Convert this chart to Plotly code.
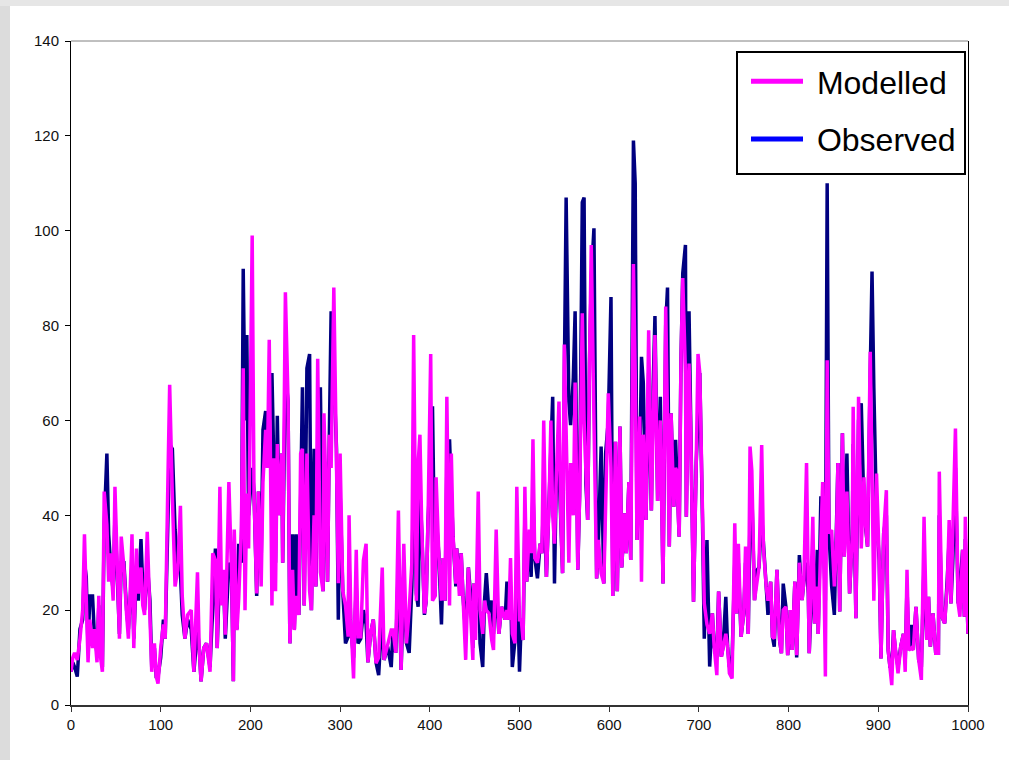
import plotly.graph_objects as go

# ---- data (day index, modelled, observed) ----
day = [0, 2, 4, 7, 10, 13, 15, 17, 19, 21, 24, 26, 29, 31, 33, 35, 37, 40, 42, 44,
       47, 49, 52, 54, 56, 59, 62, 64, 66, 68, 70, 73, 75, 78, 80, 82, 85, 88, 90, 93,
       95, 97, 100, 103, 105, 108, 110, 113, 116, 119, 122, 124, 127, 130, 134, 137, 141, 143, 145, 148,
       151, 155, 158, 161, 163, 166, 168, 170, 172, 176, 179, 181, 182, 185, 187, 190, 192, 194, 196, 198,
       202, 204, 207, 209, 212, 214, 217, 219, 221, 224, 226, 228, 230, 232, 235, 236, 239, 242, 244, 247,
       249, 251, 254, 256, 258, 260, 263, 266, 268, 271, 273, 275, 278, 281, 282, 284, 286, 288, 290, 293,
       296, 298, 300, 303, 306, 309, 310, 312, 315, 318, 320, 323, 326, 329, 331, 334, 337, 340, 343, 347,
       349, 353, 357, 359, 362, 365, 368, 371, 374, 377, 380, 382, 385, 387, 389, 391, 394, 396, 398, 401,
       403, 406, 407, 410, 413, 415, 417, 419, 422, 424, 426, 429, 430, 433, 435, 437, 440, 443, 446, 448,
       449, 451, 454, 456, 459, 461, 463, 466, 469, 471, 474, 477, 480, 484, 486, 488, 490, 492, 495, 497,
       500, 502, 504, 506, 508, 511, 513, 515, 517, 520, 523, 525, 527, 530, 533, 535, 537, 539, 541, 544,
       546, 548, 550, 552, 555, 557, 560, 562, 565, 567, 570, 572, 574, 576, 578, 580, 583, 586, 588, 591,
       594, 596, 599, 602, 604, 607, 609, 612, 614, 617, 619, 622, 624, 627, 629, 631, 634, 636, 638, 641,
       644, 647, 649, 651, 654, 657, 660, 663, 665, 667, 669, 672, 674, 675, 678, 680, 682, 685, 686, 689,
       691, 694, 697, 699, 701, 704, 706, 709, 712, 715, 717, 720, 722, 725, 727, 730, 732, 734, 737, 740,
       742, 744, 747, 750, 752, 755, 757, 759, 762, 765, 767, 770, 772, 775, 777, 780, 782, 784, 787, 790,
       792, 794, 797, 799, 802, 804, 807, 809, 812, 815, 817, 820, 822, 823, 827, 829, 832, 833, 836, 838,
       841, 843, 845, 848, 851, 853, 855, 857, 860, 862, 865, 868, 871, 872, 875, 878, 881, 884, 886, 888,
       891, 893, 895, 897, 898, 901, 903, 906, 909, 911, 913, 915, 917, 919, 922, 925, 928, 930, 932, 934,
       937, 939, 942, 945, 948, 951, 954, 956, 958, 961, 964, 967, 968, 971, 974, 977, 979, 981, 983, 986,
       989, 991, 994, 996, 997, 1000]

modelled = [7, 10, 11, 9.5, 14, 20, 36, 25, 9, 18, 12, 16, 9, 23, 10, 7, 45, 38, 26, 32,
            22, 46, 23.5, 14, 35.5, 29, 19, 14, 24, 36, 12, 33, 23.5, 29, 21, 19, 36.5, 21, 7, 13,
            6, 4.5, 12, 17, 14, 47, 67.5, 44, 25, 28.5, 42, 23, 14, 19, 20, 7, 28, 11.6, 5, 12,
            13, 7, 32, 30.5, 12, 46, 21, 28.5, 14.8, 47, 28, 5, 37, 15.8, 22.5, 37.6, 71, 20, 44.6, 33,
            99, 45, 23.5, 45, 25, 47, 58, 50, 77, 21, 52, 24, 55, 40, 53, 30, 87, 64, 13, 28.5,
            15.8, 23, 19, 53, 54, 21, 53, 24, 20, 40, 25, 73, 28, 24, 61.5, 47, 26, 57, 50, 88,
            54, 25.7, 53, 24, 21, 14.4, 40, 18, 5.6, 32.7, 14.4, 14.4, 30.5, 34, 9, 15, 18, 8.8, 10, 29,
            9.5, 12.3, 15.8, 15.8, 11, 41, 7.4, 34, 13, 20, 30, 78, 22, 51, 57, 37.6, 19.3, 22, 39, 74,
            22, 23, 48, 32, 22, 31, 22, 65, 21, 53, 35.5, 25.6, 33, 23, 32, 23, 9.5, 29, 19, 9.5,
            25.6, 13.7, 45, 20, 15, 22, 20, 19.3, 13.7, 11.6, 37, 15, 20.7, 18, 20, 18, 31, 15, 13, 46,
            18, 18, 13.7, 46, 26, 37, 32, 56, 31, 30, 34, 32, 60, 27, 43, 60, 40, 34, 47.8, 64,
            40, 27.8, 76, 60, 30, 51, 40, 68, 28.5, 44, 82.6, 60, 46.7, 39, 72, 97, 60, 26.7, 34.8, 27.8,
            25.6, 40, 65.7, 50, 23, 55.5, 24, 58.7, 29, 40.4, 32, 47, 30.6, 93, 70, 34.8, 60.8, 26, 57, 39,
            79, 41, 60, 78, 43, 60, 25.6, 84, 60, 33.4, 61.5, 41.8, 50, 49.5, 35.5, 72.4, 90, 70, 39.7, 72,
            56.6, 21.8, 51, 74, 70, 39, 21.4, 17, 15, 19.3, 12.3, 6.3, 23.9, 10.2, 12.3, 15, 12.3, 6.7, 5.6, 38.3,
            19.3, 34, 14.4, 19.3, 33.4, 15, 54.5, 49.5, 22.1, 26, 29, 54.8, 33, 25, 22, 26, 14.4, 14, 28.5, 13.7,
            10.9, 20, 20.7, 10.5, 20, 11.6, 26, 10.5, 30, 22.1, 26, 51, 23.5, 10.9, 39.7, 17.2, 25, 15, 35, 47,
            6, 72.7, 36.2, 36.9, 25, 32, 51, 19.7, 57.3, 31.3, 45, 23.5, 36, 62.9, 18.3, 65, 33, 48, 37.6, 33.4,
            74.5, 50, 22, 40, 48.8, 30.6, 9.8, 36.2, 45.3, 11.6, 8.1, 4.2, 15.8, 11.6, 6.7, 12.3, 15, 7, 28.5, 11.6,
            12, 11.6, 20.7, 9.5, 5.3, 39.7, 13.7, 22.8, 12.3, 19.3, 10.9, 10.9, 49.2, 18.6, 17.2, 25.6, 39, 21.4, 34, 58.3,
            21.4, 18.6, 32.7, 18.6, 39.7, 15]

observed = [7, 9, 8, 6, 16, 18, 30, 27, 12, 23, 23, 15, 11, 21, 12, 8, 38, 53, 36, 30,
            24, 40, 25, 15, 30, 30, 20, 16, 22, 30, 14, 28, 22, 35, 25, 20, 30, 22, 8, 12,
            6, 6, 10, 18, 14, 40, 55, 54, 37, 30, 28, 19, 14, 18, 16, 7, 16, 12, 5, 12,
            13, 8, 20, 33, 12, 30, 24, 27, 14, 30, 28, 5, 30, 16, 34, 30, 92, 60, 78, 40,
            50, 45, 23, 45, 30, 58, 62, 50, 60, 70, 52, 30, 61, 40, 53, 30, 70, 64, 13, 36,
            16, 36, 19, 40, 67, 21, 71, 74, 20, 54, 25, 50, 67, 24, 50, 47, 26, 57, 83, 70,
            54, 18, 45, 24, 13, 14.4, 30, 16, 10, 25, 13, 14, 20, 17, 9, 15, 18, 9, 6.3, 20,
            9.5, 12.3, 8, 15.8, 11, 30, 7.4, 25, 13, 11, 25, 50, 23.5, 20.7, 45, 37, 19, 22, 39, 50,
            63, 23, 40, 32, 17, 31, 22, 50, 56, 45, 35, 25, 33, 26, 32, 23, 15, 29, 22, 12,
            25.6, 20, 30, 13, 8, 22, 27.8, 19.3, 22, 15, 25, 15, 20.7, 18, 26, 18, 25, 8, 13.7, 30,
            7, 18, 13.7, 40, 26, 35, 27, 45, 31, 26.7, 34, 32, 45, 27, 43, 50, 65, 25.6, 47.8, 50,
            40, 27.8, 70, 107, 64, 59, 69, 83, 28.5, 44, 106, 107, 46.7, 39, 72, 90, 100.5, 26.7, 34.8, 54.5,
            25.6, 53, 60, 86, 23, 55.5, 24, 58.7, 29, 40.4, 32, 47, 30.6, 119, 110, 34.8, 50, 73.4, 68, 39,
            70, 41, 67, 82, 43, 65, 25.6, 80, 88, 33.4, 61.5, 41.8, 55.9, 49.5, 35.5, 72.4, 91, 97, 39.7, 83,
            56.6, 21.8, 51, 60, 70, 39, 14, 34.8, 8.1, 19.3, 12.3, 10, 23.9, 10.2, 12.3, 22.8, 12.3, 8, 10, 30,
            19.3, 30, 14.4, 19.3, 30, 15, 40, 45, 22.1, 28.5, 29, 40, 33, 25, 19, 26, 14.4, 12.3, 28.5, 13.7,
            10.9, 25.6, 20.7, 10.5, 20, 11.6, 26, 10, 31.6, 22.1, 26, 30, 23.5, 10.9, 30, 17.2, 32.7, 15, 44, 40,
            22, 110, 36.2, 25, 19, 32, 51, 19.7, 57.3, 31.3, 53, 23.5, 36, 55, 18.3, 60, 63.6, 41, 37.6, 33.4,
            70, 91.4, 67, 46.7, 40, 30.6, 9.8, 36.2, 40, 11.6, 8.1, 8, 15.8, 11.6, 8, 12.3, 15, 9, 25, 11.6,
            16.9, 11.6, 20.7, 9.5, 8, 30, 13.7, 22.8, 12.3, 19.3, 10.9, 10.9, 40, 18.6, 17.2, 27, 35, 21.4, 30, 50,
            21.4, 25, 32.7, 18.6, 35, 15]

series_names = ["Modelled", "Observed"]
x_ticks = [0, 100, 200, 300, 400, 500, 600, 700, 800, 900, 1000]
y_ticks = [0, 20, 40, 60, 80, 100, 120, 140]

W, H = 1009, 760
L, R, T, B = 71, 968, 41, 705   # plot area in pixels

def px_x(p):
    return (p - L) / (R - L)

def px_y(p):
    return (B - p) / (B - T)

fig = go.Figure()

# observed (drawn underneath)
fig.add_trace(go.Scatter(x=day, y=observed, mode="lines", name=series_names[1],
                         line=dict(color="#000080", width=3.5), showlegend=False))
# modelled (on top)
fig.add_trace(go.Scatter(x=day, y=modelled, mode="lines", name=series_names[0],
                         line=dict(color="#FF00FF", width=3.5), showlegend=False))
# legend entries
fig.add_trace(go.Scatter(x=[None], y=[None], mode="lines", name="\u00a0" + series_names[0],
                         line=dict(color="#FF00FF", width=5), legendgroup="a"))
fig.add_trace(go.Scatter(x=[None], y=[None], mode="lines", name="\u00a0" + series_names[1],
                         line=dict(color="#0000FF", width=5), legendgroup="b"))

font_family = "Liberation Sans, Arial, sans-serif"

shapes = [
    # grey page strips (left and top)
    dict(type="rect", xref="paper", yref="paper", x0=px_x(0), x1=px_x(10), y0=px_y(W), y1=px_y(0),
         fillcolor="#dcdcdc", line=dict(width=0), layer="below"),
    dict(type="rect", xref="paper", yref="paper", x0=px_x(0), x1=px_x(W), y0=px_y(6), y1=px_y(0),
         fillcolor="#e6e6e6", line=dict(width=0), layer="below"),
    # top border of the plot area
    dict(type="line", xref="paper", yref="paper", x0=0, x1=1, y0=1, y1=1,
         line=dict(color="#808080", width=1)),
    # legend box
    dict(type="rect", xref="paper", yref="paper", x0=px_x(737), x1=px_x(965), y0=px_y(174), y1=px_y(52),
         fillcolor="white", line=dict(color="#000000", width=2), layer="above"),
]

fig.update_layout(
    width=W, height=H,
    margin=dict(l=L, r=W - R, t=T, b=H - B, pad=0),
    paper_bgcolor="white", plot_bgcolor="white",
    font=dict(family=font_family, color="#000000", size=15),
    shapes=shapes,
    showlegend=True,
    legend=dict(x=px_x(746), y=px_y(54), xanchor="left", yanchor="top",
                bgcolor="rgba(0,0,0,0)", borderwidth=0,
                font=dict(size=32, family=font_family, color="#000000"),
                traceorder="grouped", tracegroupgap=13, itemwidth=52),
)

fig.update_xaxes(range=[0, 1000], tickvals=x_ticks, ticktext=[str(v) for v in x_ticks],
                 showgrid=False, zeroline=False, showline=True, linecolor="#333333", linewidth=2,
                 ticks="outside", ticklen=5, tickcolor="#333333", tickwidth=1,
                 tickfont=dict(size=15, color="#111111"))
fig.update_yaxes(range=[0, 140], tickvals=y_ticks, ticktext=[str(v) for v in y_ticks],
                 showgrid=False, zeroline=False, showline=True, linecolor="#000000", linewidth=1,
                 mirror=True, ticks="outside", ticklen=5, tickcolor="#000000", tickwidth=1,
                 tickfont=dict(size=15, color="#111111"), ticklabelstandoff=3)

fig.write_html("out.html")
